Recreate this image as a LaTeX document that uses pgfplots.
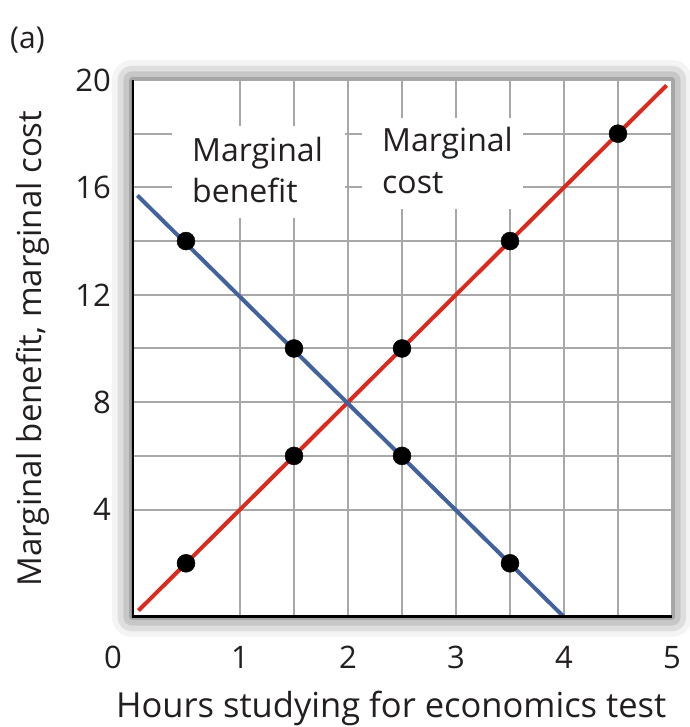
\documentclass[border=0pt]{standalone}
\usepackage{pgfplots}
\pgfplotsset{compat=1.18}
\usepackage{fontspec}
\setmainfont{Open Sans}
\usetikzlibrary{shadows.blur}

\definecolor{mcred}{RGB}{218,42,30}
\definecolor{mbblue}{RGB}{66,98,158}
\definecolor{gridgray}{RGB}{168,168,168}
\definecolor{txt}{RGB}{35,31,32}

\begin{document}
\begin{tikzpicture}
\path[use as bounding box] (-132pt,-110pt) rectangle (557pt,617pt);
\begin{axis}[
    at={(0,0)}, anchor=origin,
    scale only axis,
    width=540pt, height=537pt,
    xmin=0, xmax=5, ymin=0, ymax=20,
    xtick={1,2,3,4,5},
    ytick={4,8,12,16,20},
    minor x tick num=1,
    minor y tick num=1,
    grid=both,
    major grid style={gridgray, line width=2pt},
    minor grid style={gridgray, line width=2pt},
    major tick length=0pt, minor tick length=0pt,
    axis line style={draw=none},
    axis background/.style={fill=white, blur shadow={shadow xshift=0pt, shadow yshift=0pt, shadow blur radius=20pt, shadow opacity=70}},
    tick label style={font=\fontsize{31}{37}\selectfont, text=txt},
    yticklabel style={inner sep=0pt, anchor=east, xshift=-21pt},
    xticklabel style={inner sep=0pt, anchor=base, yshift=-51pt},
    /pgf/number format/assume math mode=true,
    xlabel={Hours studying for economics test},
    xlabel style={font=\fontsize{34.5}{40}\selectfont, text=txt, inner sep=0pt,
        at={(axis description cs:0.48,0)}, anchor=base, yshift=-100pt},
    ylabel={Marginal benefit, marginal cost},
    ylabel style={font=\fontsize{33}{39}\selectfont, text=txt, inner sep=0pt,
        at={(axis description cs:0,0.5)}, anchor=base, yshift=90pt},
]
% white boxes behind the curve labels
\fill[white] (axis cs:0.37,14.86) rectangle (axis cs:1.97,18.3);
\fill[white] (axis cs:2.13,15.2) rectangle (axis cs:3.62,18.6);

\addplot[mcred, line width=4pt] coordinates {(0.06,0.24) (4.95,19.8)};
\addplot[mbblue, line width=4pt] coordinates {(0.05,15.7) (4,0)};
\addplot[only marks, mark=*, mark size=9pt, black] coordinates {
(0.5,2) (1.5,6) (2.5,10) (3.5,14) (4.5,18)
(0.5,14) (1.5,10) (2.5,6) (3.5,2)};

\node[anchor=base west, inner sep=0pt, text=txt, font=\fontsize{32}{38}\selectfont] at (axis cs:0.556,16.95) {Marginal};
\node[anchor=base west, inner sep=0pt, text=txt, font=\fontsize{32}{38}\selectfont] at (axis cs:0.556,15.42) {benefit};
\node[anchor=base west, inner sep=0pt, text=txt, font=\fontsize{32}{38}\selectfont] at (axis cs:2.315,17.32) {Marginal};
\node[anchor=base west, inner sep=0pt, text=txt, font=\fontsize{32}{38}\selectfont] at (axis cs:2.315,15.79) {cost};

\draw[black, line width=4pt] (rel axis cs:0,1) -- (rel axis cs:0,0) -- (rel axis cs:1,0);
\coordinate (O) at (axis cs:0,0);
\end{axis}
\node[inner sep=0pt, anchor=base, text=txt, font=\fontsize{31}{37}\selectfont] at ([xshift=-19pt, yshift=-51pt]O) {0};
\node[anchor=west, inner sep=0pt, text=txt, font=\fontsize{30}{36}\selectfont] at (-122pt,577pt) {(a)};
\end{tikzpicture}
\end{document}
